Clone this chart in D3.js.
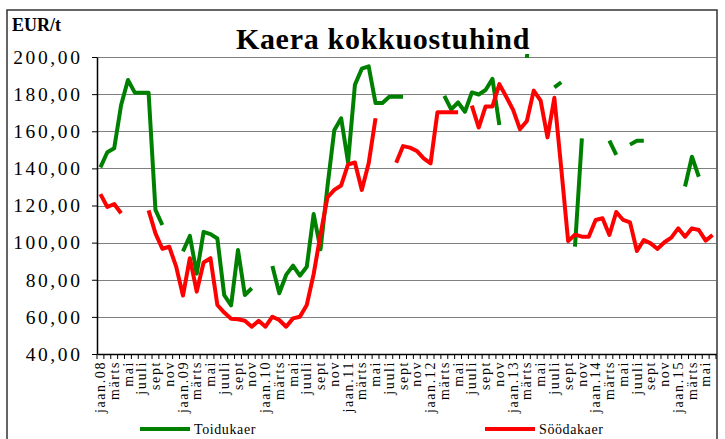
<!DOCTYPE html>
<html><head><meta charset="utf-8">
<script src="https://cdn.jsdelivr.net/npm/d3@7"></script>
<style>body{margin:0;background:#fff}svg{display:block}
svg text{font-family:"Liberation Serif","Times New Roman",Tinos,"Nimbus Roman","DejaVu Serif",serif !important;fill:#000}</style>
</head><body><svg id="c" width="725" height="439"></svg>
<script>
const monthNames = ["jaan","veebr","märts","apr","mai","juuni","juuli","aug","sept","okt","nov","dets"];
const years = ["08","09","10","11","12","13","14","15"];
const monthCount = 90;
const yTicks = [40,60,80,100,120,140,160,180,200];
const seriesNames = ["Toidukaer","Söödakaer"];
const toidukaer = [140.5,148.7,150.8,174,187.6,180.8,180.8,180.8,117.6,109.5,null,null,
 95.3,103.6,83.3,105.8,104.6,102.2,71.7,66.2,96,71.8,75.4,null,
 null,87.4,72.7,82.6,87.6,82.2,87,115.4,96.4,130,160.5,167,
 143.3,185,193.7,195,175.2,175.2,178.6,178.6,178.6,null,null,null,
 null,null,179.1,171.8,175.5,170.5,180.9,179.8,182.2,188.2,163.4,null,
 null,null,199.5,240,null,null,183.6,186.4,null,97.8,156.2,null,
 null,null,154.9,147.3,null,152.8,154.9,154.9,null,null,null,null,
 null,130.2,146.3,135.5,null,null];
const soodakaer = [126.1,119.2,120.8,115.8,null,null,null,117.4,105,96.7,97.8,87.2,
 71.5,91.6,73.6,89.3,91.6,66.4,62.3,59,58.7,57.9,54.7,57.9,
 54.7,60.1,58.3,54.7,59.2,60.1,66.4,83,104.5,124.3,128.4,130.8,
 142.1,143.2,128.4,142.7,167,null,null,143,152,151.2,149.4,145.4,
 142.7,170.2,170.2,170.2,170.2,null,173.8,162,173.4,173.4,185.4,178.6,
 171.5,161.1,165.5,181.9,176.5,156.7,178,140,100.8,104.3,103.2,103.2,
 112.2,113.1,104.1,116.5,112.2,110.9,95.5,101.4,99.6,96.6,100.2,102.7,
 107.7,103.2,107.7,106.8,101.1,104.1];

const categories = d3.range(monthCount).map(i => {
  const m = i % 12, y = Math.floor(i / 12);
  return m === 0 ? monthNames[0] + "." + years[y] : monthNames[m];
});

const svg = d3.select("#c");
const L = 97, R = 716, T = 57, B = 354;
const x = d3.scaleBand().domain(d3.range(monthCount)).range([L, R]).paddingInner(0).paddingOuter(0);
const y = d3.scaleLinear().domain([40, 200]).range([B, T]);
const cx = i => x(i) + x.bandwidth() / 2;

// frame
svg.append("rect").attr("x", 7).attr("y", 10).attr("width", 710).attr("height", 440)
  .attr("fill", "none").attr("stroke", "#333").attr("stroke-width", 1.5);

// gridlines
svg.append("g").selectAll("line").data(yTicks.filter(v => v > 40)).join("line")
  .attr("x1", L).attr("x2", R).attr("y1", d => Math.round(y(d)) + 0.5).attr("y2", d => Math.round(y(d)) + 0.5)
  .attr("stroke", "#808080").attr("stroke-width", 1.2);

// y axis
const ya = svg.append("g").attr("transform", `translate(${L},0)`)
  .call(d3.axisLeft(y).tickValues(yTicks).tickSize(5).tickSizeOuter(0).tickFormat(d => d3.format(".2f")(d).replace(".", ",")));
ya.attr("font-family", null);
ya.select(".domain").attr("stroke", "#000").attr("stroke-width", 1.5);
ya.selectAll(".tick line").attr("stroke", "#000");
ya.selectAll("text").attr("x", -14.5).attr("font-size", 19.5).attr("letter-spacing", "2.6px").attr("fill", "#000");

// x axis
const xa = svg.append("g").attr("transform", `translate(0,${B})`)
  .call(d3.axisBottom(x).tickValues(d3.range(0, monthCount, 2)).tickSize(0).tickSizeOuter(0)
    .tickFormat(i => categories[i]));
xa.attr("font-family", null);
xa.select(".domain").attr("stroke", "#000").attr("stroke-width", 1.5);
xa.selectAll("text").attr("transform", "rotate(-90)").attr("text-anchor", "end")
  .attr("x", -7).attr("y", 0).attr("dy", "0.33em").attr("font-size", 14).attr("letter-spacing", "1.6px")
  .attr("fill", "#000");
svg.append("g").selectAll("line").data(d3.range(monthCount + 1)).join("line")
  .attr("x1", i => i < monthCount ? x(i) : R).attr("x2", i => i < monthCount ? x(i) : R)
  .attr("y1", B).attr("y2", B + 5).attr("stroke", "#000").attr("stroke-width", 1);

// clip
svg.append("clipPath").attr("id", "clip").append("rect")
  .attr("x", L).attr("y", T - 3).attr("width", R - L).attr("height", B - T + 3);

const line = d3.line().defined(d => d != null).x((d, i) => cx(i)).y(d => y(d));
const colors = ["#008000", "#ff0000"];
[toidukaer, soodakaer].forEach((s, k) => {
  svg.append("path").datum(s).attr("d", line).attr("fill", "none")
    .attr("stroke", colors[k]).attr("stroke-width", 4).attr("stroke-linejoin", "round")
    .attr("clip-path", "url(#clip)");
});

// titles
svg.append("text").attr("x", 383).attr("y", 49).attr("text-anchor", "middle")
  .attr("font-size", 30).attr("font-weight", "bold").attr("letter-spacing", "0.7px").text("Kaera kokkuostuhind");
svg.append("text").attr("x", 12).attr("y", 31).attr("font-size", 18).attr("font-weight", "bold")
  .attr("letter-spacing", "0px").text("EUR/t");

// legend
const legX = [140, 485];
seriesNames.forEach((n, k) => {
  svg.append("line").attr("x1", legX[k]).attr("x2", legX[k] + 50).attr("y1", 429).attr("y2", 429)
    .attr("stroke", colors[k]).attr("stroke-width", 4);
  svg.append("text").attr("x", legX[k] + 54).attr("y", 434).attr("font-size", 14)
    .attr("letter-spacing", "0.6px").text(n);
});
</script></body></html>
